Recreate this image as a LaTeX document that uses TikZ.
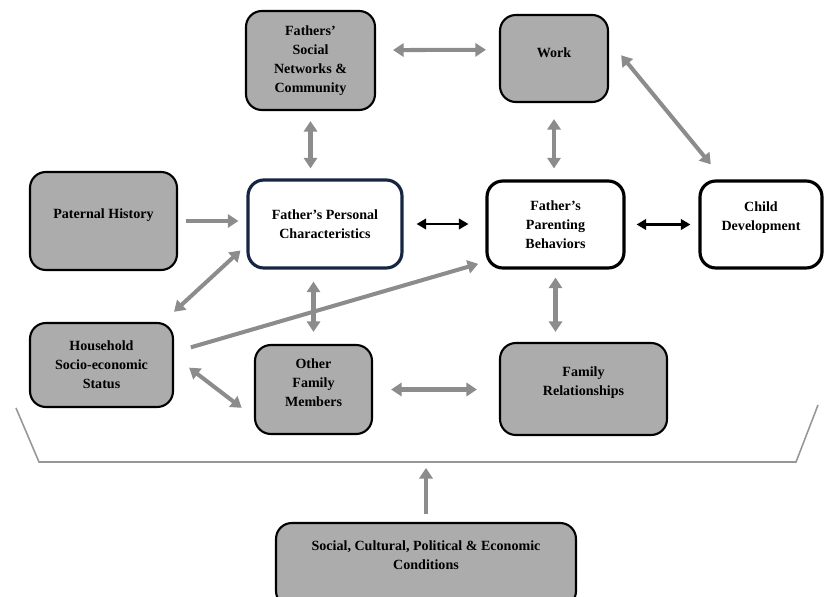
\documentclass[tikz,border=0pt]{standalone}
\usepackage{fontspec}
\setmainfont{Liberation Serif}
\usetikzlibrary{arrows.meta}
\definecolor{boxgray}{RGB}{172,172,172}
\definecolor{arrgray}{RGB}{140,140,140}
\definecolor{navyline}{RGB}{22,38,66}

\begin{document}
\begin{tikzpicture}
  [x=0.02cm,y=-0.02cm,
   every node/.style={draw=black,line width=1.2pt,rounded corners=9pt,fill=boxgray,
     align=center,font=\fontsize{8}{10.8}\selectfont\bfseries},
   open/.style={fill=white,line width=1.8pt},
   garrow/.style={draw=arrgray,line width=2.3pt,
     {Triangle[length=6pt,width=7.5pt]}-{Triangle[length=6pt,width=7.5pt]}},
   gonly/.style={draw=arrgray,line width=2.3pt,-{Triangle[length=6pt,width=7.5pt]}},
   barrow/.style={draw=black,line width=1.7pt,
     {Triangle[length=5.5pt,width=6pt]}-{Triangle[length=5.5pt,width=6pt]}}]
  \useasboundingbox (0,0) rectangle (824,597);

  \node[minimum width=2.58cm,minimum height=1.98cm] (soc) at (310.5,60.5) {Fathers'\\Social\\Networks \&\\Community};
  \node[minimum width=2.16cm,minimum height=1.74cm,text depth=6.8pt] (work) at (554,58.5) {Work};
  \node[minimum width=2.94cm,minimum height=1.96cm,text depth=8.5pt] (pat) at (103.5,221) {Paternal History};
  \node[open,draw=navyline,minimum width=3.08cm,minimum height=1.76cm] (pers) at (325,224) {Father's Personal\\Characteristics};
  \node[open,minimum width=2.74cm,minimum height=1.74cm] (par) at (555.5,224.5) {Father's\\Parenting\\Behaviors};
  \node[open,minimum width=2.44cm,minimum height=1.74cm,text depth=9.1pt] (child) at (761,224.5) {Child\\Development};
  \node[minimum width=2.86cm,minimum height=1.68cm] (hh) at (101.5,365) {Household\\Socio-economic\\Status};
  \node[minimum width=2.34cm,minimum height=1.78cm,text depth=7.9pt] (oth) at (313.5,389.5) {Other\\Family\\Members};
  \node[minimum width=3.34cm,minimum height=1.84cm,text depth=8.5pt] (fam) at (583.5,389) {Family\\Relationships};
  \node[minimum width=6.0cm,minimum height=1.68cm,text depth=11.3pt] (cond) at (426,565) {Social, Cultural, Political \& Economic\\Conditions};

  % bracket over the family context
  \draw[draw=arrgray!90,line width=0.9pt] (16,408) -- (39,462) -- (796,462) -- (818,405);
  \coordinate (br) at (426,462);

  \foreach \from/\to/\a/\b in {soc.9/work.171/0.34cm/0.26cm,
      work.18/child.130/0.38cm/0.39cm,
      soc.south/soc.south |- pers.north/0.2cm/0.2cm,
      work.south/work.south |- par.north/0.32cm/0.22cm,
      hh.35/pers.195/0.3cm/0.16cm,
      oth.north |- pers.south/oth.north/0.24cm/0.24cm,
      hh.7/oth.205/0.38cm/0.31cm,
      oth.east/oth.east -| fam.west/0.36cm/0.44cm,
      par.south/par.south |- fam.north/0.16cm/0.2cm}
    \draw[garrow,shorten <=\a,shorten >=\b] (\from) -- (\to);

  \draw[gonly,shorten <=0.16cm,shorten >=0.16cm] (pat.east) -- (pat.east -| pers.west);
  \draw[gonly,shorten <=0.35cm,shorten >=0.15cm] (hh.10) -- (par.208);
  \draw[gonly,shorten <=0.16cm,shorten >=0.12cm] (cond.north) -- (br);

  \draw[barrow,shorten <=0.26cm,shorten >=0.34cm] (pers.east) -- (pers.east -| par.west);
  \draw[barrow,shorten <=0.22cm,shorten >=0.16cm] (par.east) -- (child.west);

\end{tikzpicture}
\end{document}
